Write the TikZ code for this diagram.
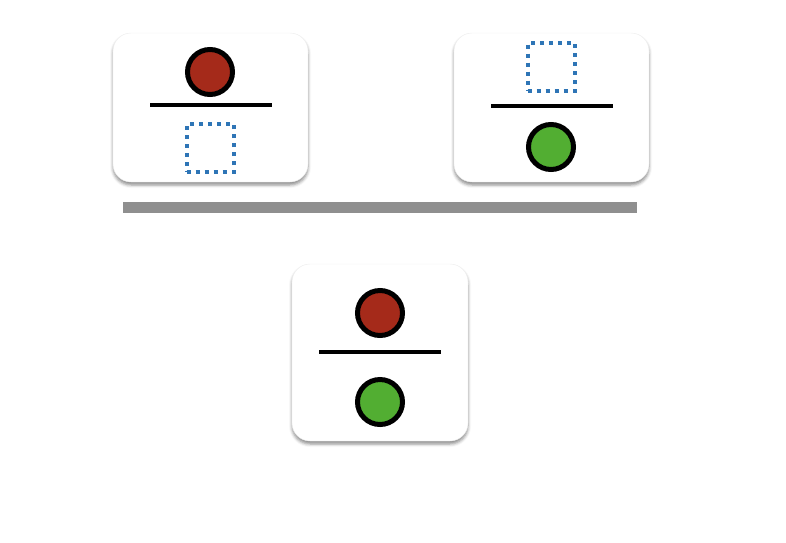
\documentclass[tikz,border=0pt]{standalone}
\usepackage{tikz}
\usetikzlibrary{shadows.blur}
\definecolor{dotred}{HTML}{A52A1A}
\definecolor{dotgreen}{HTML}{52AE32}
\definecolor{slotblue}{HTML}{2E75B6}
\tikzset{
  card/.style = {draw = black!7, fill = white, rounded corners = 18pt, inner sep = 0pt,
        blur shadow = {shadow xshift = 0pt, shadow yshift = -3pt, shadow blur radius = 3pt, shadow opacity = 45}},
  RedDot/.style = {circle, draw = black, fill = dotred, line width = 5pt, minimum size = 45pt, inner sep = 0pt},
  GreenDot/.style = {circle, draw = black, fill = dotgreen, line width = 5pt, minimum size = 45pt, inner sep = 0pt},
  EmptySlot/.style = {draw = slotblue, line width = 4pt, dash pattern = on 4pt off 5pt, minimum width = 47pt, minimum height = 48pt, inner sep = 0pt},
  bar/.style = {line width = 4pt}
}
\begin{document}
\begin{tikzpicture}[x=1pt, y=-1pt]
    \useasboundingbox (0,0) rectangle (786,542);
    % left premise
    \node [card, minimum width = 195pt, minimum height = 149pt] (left) at (210.5,107.5) {};
    \node [RedDot] (leftTop) at (210,72) {};
    \draw [bar] (150,105) -- (272,105);
    \node [EmptySlot] (leftBottom) at (210,148) {};
    % right premise
    \node [card, minimum width = 195pt, minimum height = 149pt] (right) at (551.5,107.5) {};
    \node [EmptySlot] (rightTop) at (551,66.5) {};
    \draw [bar] (491,106) -- (613,106);
    \node [GreenDot] (rightBottom) at (551,147) {};
    % rule
    \fill [black!44] (123,202) rectangle (637,213);
    % conclusion
    \node [card, minimum width = 176pt, minimum height = 177pt] (result) at (380,352.5) {};
    \node [RedDot] (resultTop) at (380,313) {};
    \draw [bar] (319,352) -- (441,352);
    \node [GreenDot] (resultBottom) at (380,402) {};
\end{tikzpicture}
\end{document}
